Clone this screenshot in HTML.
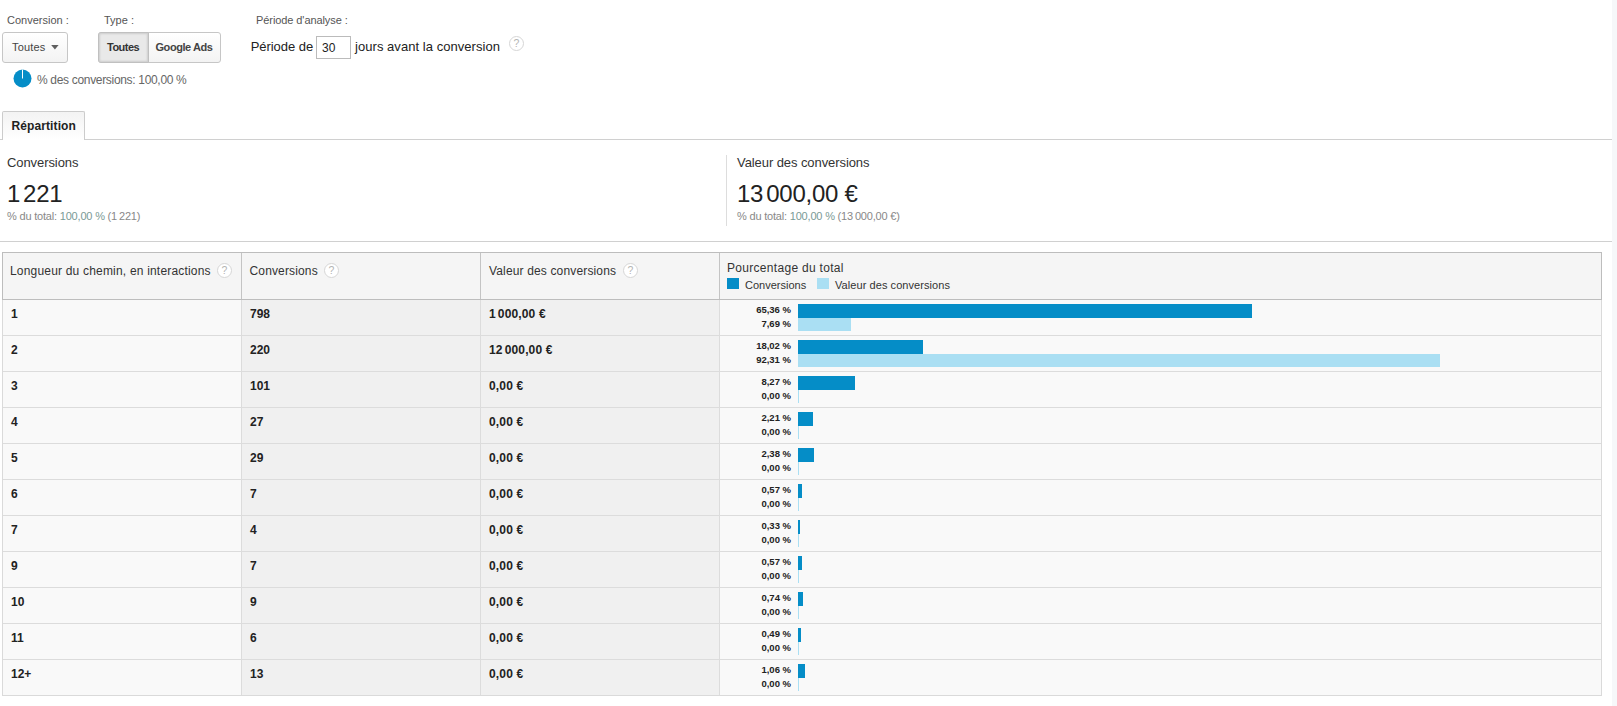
<!DOCTYPE html>
<html lang="fr"><head><meta charset="utf-8"><title>Longueur du chemin</title>
<style>
*{box-sizing:border-box;margin:0;padding:0}
html,body{width:1617px;height:706px;overflow:hidden;background:#fff}
body{font-family:"Liberation Sans",Arial,sans-serif;color:#222;font-size:12px;position:relative}
.abs{position:absolute;white-space:nowrap}
.ts{display:inline-block;white-space:pre;letter-spacing:0}
.lbl{font-size:11px;color:#555;line-height:12px}
.btn{position:absolute;top:32px;height:31px;border:1px solid #c6c6c6;border-radius:3px;background:linear-gradient(#fff,#f3f3f3);font-size:11px;color:#444;line-height:29px;white-space:nowrap}
.help{position:absolute;width:15px;height:15px;border:1px solid #d6d6d6;border-radius:50%;background:#fff;color:#b4b4b4;font-size:10.5px;line-height:13px;text-align:center}
.hline{position:absolute;left:0;width:1612px;height:1px;background:#d0d0d0}
.strip{position:absolute;left:1612px;top:0;width:5px;height:706px;background:#f6f7f9}
.tab{position:absolute;left:2px;top:111px;width:83px;height:29px;border:1px solid #ccc;border-bottom:none;border-radius:2px 2px 0 0;background:linear-gradient(#f3f3f3,#fff)}
.tab span{letter-spacing:0.1px;position:absolute;left:8.5px;top:7px;font-weight:bold;font-size:12px;line-height:14px;white-space:nowrap}
.mt{letter-spacing:-0.08px;font-size:13px;color:#333;line-height:14px}
.mv{letter-spacing:-0.25px;font-size:24px;color:#222;line-height:26px}
.ms{letter-spacing:-0.19px;font-size:11px;color:#888;line-height:12px}
.ms b{font-weight:normal;color:#7a9a96}
.table{position:absolute;left:2px;top:252px;width:1600px;height:444px;border:1px solid #dadada;background:#f9f9f9}
.thb{position:absolute;left:2px;top:252px;width:1600px;height:48px;border:1px solid #bdbdbd;border-bottom:none}
.thead{position:absolute;left:3px;top:253px;width:1598px;height:47px;background:#f5f5f5;border-bottom:1px solid #bdbdbd}
.th{position:absolute;top:0;height:46px;border-left:1px solid #c4c4c4;font-size:12px;letter-spacing:0.15px;color:#333;white-space:nowrap}
.th span.t{position:absolute;left:8px;top:11px;line-height:14px}
.row{position:absolute;left:3px;width:1598px;height:36px;border-bottom:1px solid #dcdcdc}
.row.last{border-bottom:none;height:35px}
.c{position:absolute;top:0;height:35px;font-weight:bold;font-size:12px;white-space:nowrap}
.c>span{position:absolute;left:8px;top:7px;line-height:14px}
.c1{left:0;width:238px;background:#f9f9f9}
.c2{left:238px;width:239px;background:#f0f0f0;border-left:1px solid #dcdcdc}
.c3{letter-spacing:0.15px;left:477px;width:239px;background:#f0f0f0;border-left:1px solid #dcdcdc}
.c4{left:716px;width:882px;background:#f9f9f9;border-left:1px solid #dcdcdc}
.c4 .p{left:auto;right:810px;font-size:9.5px;line-height:12px;text-align:right}
.c4 .p1{top:4px}
.c4 .p2{top:18px}
.b{position:absolute;left:78px;display:block}
.b1{top:4px;height:14px;background:#058dc7}
.b2{top:18px;height:13px;background:#aadff3}
.sq{position:absolute;width:12px;height:11px}
</style></head><body>
<div class="strip"></div>

<div id="t_conv" class="abs lbl" style="left:7px;top:14px">Conversion :</div>
<div id="t_type" class="abs lbl" style="left:104px;top:14px">Type :</div>
<div id="t_per" class="abs lbl" style="left:256px;top:14px;letter-spacing:-0.08px">Période d'analyse :</div>

<div class="btn" style="left:2px;width:66px"><span id="t_dd" class="abs" style="left:9px;top:0;letter-spacing:0.15px">Toutes</span><svg style="position:absolute;left:48px;top:12px" width="8" height="5" viewBox="0 0 8 5"><path d="M0.2 0h7.4L3.9 4.6z" fill="#5f5f5f"/></svg></div>
<div class="btn" style="left:98px;width:123px"></div>
<div class="btn" style="left:98px;width:51px;border-radius:3px 0 0 3px;background:#e9e9e9;box-shadow:inset 0 0 2px 1px rgba(0,0,0,.12);font-weight:bold;color:#333;border-color:#c0c0c0"><span id="t_tb" class="abs" style="left:8px;top:0;letter-spacing:-0.5px">Toutes</span></div>
<div id="t_ga" class="abs" style="left:155.5px;top:33px;font-size:11px;font-weight:bold;color:#444;line-height:29px;letter-spacing:-0.45px">Google Ads</div>

<div id="t_pde" class="abs" style="left:250.7px;top:39px;font-size:13px;line-height:15px;color:#222;letter-spacing:-0.05px">Période de</div>
<div class="abs" style="left:316px;top:36px;width:35px;height:23px;border:1px solid #bbb;background:#fff"><span id="t_30" class="abs" style="left:5px;top:4px;font-size:12px;line-height:14px;color:#222">30</span></div>
<div id="t_jours" class="abs" style="left:355px;top:39px;letter-spacing:0.05px;font-size:13px;line-height:15px;color:#222">jours avant la conversion</div>
<div class="help" style="left:509px;top:36px">?</div>

<svg class="abs" style="left:13px;top:69px" width="19" height="19" viewBox="0 0 19 19"><circle cx="9.5" cy="9.5" r="9" fill="#058dc7"/><path d="M9.5 0.5v9" stroke="#fff" stroke-width="1"/></svg>
<div id="t_pct" class="abs" style="left:37px;top:73px;letter-spacing:-0.32px;font-size:12px;line-height:14px;color:#666">% des conversions: 100,00 %</div>

<div class="hline" style="top:139px"></div>
<div class="tab"><span id="t_rep">Répartition</span></div>

<div id="m1t" class="abs mt" style="left:7px;top:156px">Conversions</div>
<div id="m1v" class="abs mv" style="left:7px;top:181px">1<span class="ts" style="width:3px">&#8239;</span>221</div>
<div id="m1s" class="abs ms" style="left:7px;top:210px">% du total: <b>100,00 %</b> (1<span class="ts" style="width:2px">&#8239;</span>221)</div>

<div class="abs" style="left:726px;top:155px;width:1px;height:71px;background:#ddd"></div>
<div id="m2t" class="abs mt" style="left:737px;top:156px">Valeur des conversions</div>
<div id="m2v" class="abs mv" style="left:737px;top:181px">13<span class="ts" style="width:3px">&#8239;</span>000,00 €</div>
<div id="m2s" class="abs ms" style="left:737px;top:210px">% du total: <b>100,00 %</b> (13<span class="ts" style="width:2px">&#8239;</span>000,00 €)</div>

<div class="hline" style="top:241px"></div>

<div class="table"></div><div class="thb"></div>
<div class="thead">
 <div class="th" style="left:0;width:238px;border-left:none"><span id="h1" class="t" style="left:7px;letter-spacing:0.19px">Longueur du chemin, en interactions</span><div class="help" style="left:214px;top:10px">?</div></div>
 <div class="th" style="left:238px;width:239px"><span id="h2" class="t" style="left:7.5px">Conversions</span><div class="help" style="left:82px;top:10px">?</div></div>
 <div class="th" style="left:477px;width:239px"><span id="h3" class="t">Valeur des conversions</span><div class="help" style="left:142px;top:10px">?</div></div>
 <div class="th" style="left:716px;width:882px"><span id="h4" class="t" style="top:8px;left:7px;letter-spacing:0.3px">Pourcentage du total</span>
  <i class="sq" style="left:7px;top:25px;background:#058dc7"></i><span id="l1" class="abs" style="letter-spacing:0;left:25px;top:26px;font-size:11px;line-height:12px">Conversions</span>
  <i class="sq" style="left:97px;top:25px;background:#aadff3"></i><span id="l2" class="abs" style="letter-spacing:0.07px;left:115px;top:26px;font-size:11px;line-height:12px">Valeur des conversions</span>
 </div>
</div>
<div class="row" style="top:300px">
<div class="c c1"><span id="r0a">1</span></div><div class="c c2"><span id="r0b">798</span></div><div class="c c3"><span id="r0c">1<span class="ts" style="width:2px">&#8239;</span>000,00 €</span></div>
<div class="c c4"><span id="r0p" class="p p1">65,36 %</span><span id="r0q" class="p p2">7,69 %</span><i class="b b1" style="width:454px"></i><i class="b b2" style="width:53px"></i></div>
</div>
<div class="row" style="top:336px">
<div class="c c1"><span id="r1a">2</span></div><div class="c c2"><span id="r1b">220</span></div><div class="c c3"><span id="r1c">12<span class="ts" style="width:2px">&#8239;</span>000,00 €</span></div>
<div class="c c4"><span id="r1p" class="p p1">18,02 %</span><span id="r1q" class="p p2">92,31 %</span><i class="b b1" style="width:125px"></i><i class="b b2" style="width:642px"></i></div>
</div>
<div class="row" style="top:372px">
<div class="c c1"><span>3</span></div><div class="c c2"><span>101</span></div><div class="c c3"><span>0,00 €</span></div>
<div class="c c4"><span class="p p1">8,27 %</span><span class="p p2">0,00 %</span><i class="b b1" style="width:57px"></i><i class="b b2" style="width:1px"></i></div>
</div>
<div class="row" style="top:408px">
<div class="c c1"><span>4</span></div><div class="c c2"><span>27</span></div><div class="c c3"><span>0,00 €</span></div>
<div class="c c4"><span class="p p1">2,21 %</span><span class="p p2">0,00 %</span><i class="b b1" style="width:15px"></i><i class="b b2" style="width:1px"></i></div>
</div>
<div class="row" style="top:444px">
<div class="c c1"><span>5</span></div><div class="c c2"><span>29</span></div><div class="c c3"><span>0,00 €</span></div>
<div class="c c4"><span class="p p1">2,38 %</span><span class="p p2">0,00 %</span><i class="b b1" style="width:16px"></i><i class="b b2" style="width:1px"></i></div>
</div>
<div class="row" style="top:480px">
<div class="c c1"><span>6</span></div><div class="c c2"><span>7</span></div><div class="c c3"><span>0,00 €</span></div>
<div class="c c4"><span class="p p1">0,57 %</span><span class="p p2">0,00 %</span><i class="b b1" style="width:4px"></i><i class="b b2" style="width:1px"></i></div>
</div>
<div class="row" style="top:516px">
<div class="c c1"><span>7</span></div><div class="c c2"><span>4</span></div><div class="c c3"><span>0,00 €</span></div>
<div class="c c4"><span class="p p1">0,33 %</span><span class="p p2">0,00 %</span><i class="b b1" style="width:2px"></i><i class="b b2" style="width:1px"></i></div>
</div>
<div class="row" style="top:552px">
<div class="c c1"><span>9</span></div><div class="c c2"><span>7</span></div><div class="c c3"><span>0,00 €</span></div>
<div class="c c4"><span class="p p1">0,57 %</span><span class="p p2">0,00 %</span><i class="b b1" style="width:4px"></i><i class="b b2" style="width:1px"></i></div>
</div>
<div class="row" style="top:588px">
<div class="c c1"><span>10</span></div><div class="c c2"><span>9</span></div><div class="c c3"><span>0,00 €</span></div>
<div class="c c4"><span class="p p1">0,74 %</span><span class="p p2">0,00 %</span><i class="b b1" style="width:5px"></i><i class="b b2" style="width:1px"></i></div>
</div>
<div class="row" style="top:624px">
<div class="c c1"><span>11</span></div><div class="c c2"><span>6</span></div><div class="c c3"><span>0,00 €</span></div>
<div class="c c4"><span class="p p1">0,49 %</span><span class="p p2">0,00 %</span><i class="b b1" style="width:3px"></i><i class="b b2" style="width:1px"></i></div>
</div>
<div class="row last" style="top:660px">
<div class="c c1"><span>12+</span></div><div class="c c2"><span>13</span></div><div class="c c3"><span>0,00 €</span></div>
<div class="c c4"><span class="p p1">1,06 %</span><span class="p p2">0,00 %</span><i class="b b1" style="width:7px"></i><i class="b b2" style="width:1px"></i></div>
</div>
</body></html>
